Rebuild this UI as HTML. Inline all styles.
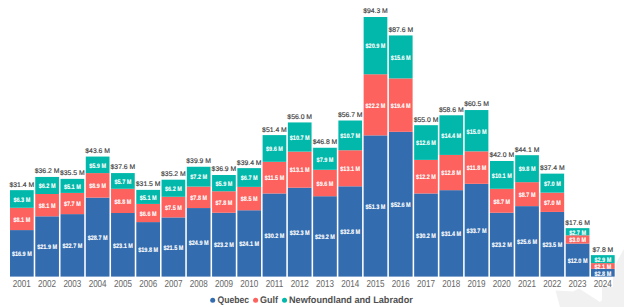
<!DOCTYPE html><html><head><meta charset="utf-8"><style>
html,body{margin:0;padding:0;background:#fff;width:624px;height:307px;overflow:hidden}
svg{display:block;font-family:"Liberation Sans",sans-serif;text-rendering:geometricPrecision}
</style></head><body>
<svg width="624" height="307" viewBox="0 0 624 307">
<polygon points="555.5,290.5 573,291.5 579,288.5 600,302 602,300 602,287 613,287 613,276.6 615.3,276.6 616,263 624,249 624,307 560,307" fill="#f1f1f1"/>

<rect x="10" y="230.08" width="23.7" height="46.52" fill="#346DAF"/>
<rect x="10" y="207.78" width="23.7" height="22.3" fill="#FD625E"/>
<rect x="10" y="190.16" width="23.7" height="17.62" fill="#01B8AA"/>
<text transform="translate(21.85 256.14) scale(0.86 1)" font-size="6.4" font-weight="bold" fill="#fff" stroke="#fff" stroke-width="0.1" text-anchor="middle">$16.9 M</text>
<text transform="translate(21.85 221.73) scale(0.86 1)" font-size="6.4" font-weight="bold" fill="#fff" stroke="#fff" stroke-width="0.1" text-anchor="middle">$8.1 M</text>
<text transform="translate(21.85 201.77) scale(0.86 1)" font-size="6.4" font-weight="bold" fill="#fff" stroke="#fff" stroke-width="0.1" text-anchor="middle">$6.3 M</text>
<text x="21.85" y="186.56" font-size="6.84" fill="#3a3a3a" stroke="#3a3a3a" stroke-width="0.15" text-anchor="middle">$31.4 M</text>
<text transform="translate(21.85 287) scale(0.8 1)" font-size="10.1" fill="#666666" stroke="#666666" stroke-width="0.0" text-anchor="middle">2001</text>
<rect x="35.26" y="216.31" width="23.7" height="60.29" fill="#346DAF"/>
<rect x="35.26" y="194.01" width="23.7" height="22.3" fill="#FD625E"/>
<rect x="35.26" y="176.94" width="23.7" height="17.07" fill="#01B8AA"/>
<text transform="translate(47.11 249.26) scale(0.86 1)" font-size="6.4" font-weight="bold" fill="#fff" stroke="#fff" stroke-width="0.1" text-anchor="middle">$21.9 M</text>
<text transform="translate(47.11 207.96) scale(0.86 1)" font-size="6.4" font-weight="bold" fill="#fff" stroke="#fff" stroke-width="0.1" text-anchor="middle">$8.1 M</text>
<text transform="translate(47.11 188.28) scale(0.86 1)" font-size="6.4" font-weight="bold" fill="#fff" stroke="#fff" stroke-width="0.1" text-anchor="middle">$6.2 M</text>
<text x="47.11" y="173.34" font-size="6.84" fill="#3a3a3a" stroke="#3a3a3a" stroke-width="0.15" text-anchor="middle">$36.2 M</text>
<text transform="translate(47.11 287) scale(0.8 1)" font-size="10.1" fill="#666666" stroke="#666666" stroke-width="0.0" text-anchor="middle">2002</text>
<rect x="60.52" y="214.11" width="23.7" height="62.49" fill="#346DAF"/>
<rect x="60.52" y="192.91" width="23.7" height="21.2" fill="#FD625E"/>
<rect x="60.52" y="178.87" width="23.7" height="14.04" fill="#01B8AA"/>
<text transform="translate(72.37 248.15) scale(0.86 1)" font-size="6.4" font-weight="bold" fill="#fff" stroke="#fff" stroke-width="0.1" text-anchor="middle">$22.7 M</text>
<text transform="translate(72.37 206.31) scale(0.86 1)" font-size="6.4" font-weight="bold" fill="#fff" stroke="#fff" stroke-width="0.1" text-anchor="middle">$7.7 M</text>
<text transform="translate(72.37 188.69) scale(0.86 1)" font-size="6.4" font-weight="bold" fill="#fff" stroke="#fff" stroke-width="0.1" text-anchor="middle">$5.1 M</text>
<text x="72.37" y="175.27" font-size="6.84" fill="#3a3a3a" stroke="#3a3a3a" stroke-width="0.15" text-anchor="middle">$35.5 M</text>
<text transform="translate(72.37 287) scale(0.8 1)" font-size="10.1" fill="#666666" stroke="#666666" stroke-width="0.0" text-anchor="middle">2003</text>
<rect x="85.78" y="197.59" width="23.7" height="79.01" fill="#346DAF"/>
<rect x="85.78" y="173.09" width="23.7" height="24.5" fill="#FD625E"/>
<rect x="85.78" y="156.57" width="23.7" height="16.52" fill="#01B8AA"/>
<text transform="translate(97.63 239.9) scale(0.86 1)" font-size="6.4" font-weight="bold" fill="#fff" stroke="#fff" stroke-width="0.1" text-anchor="middle">$28.7 M</text>
<text transform="translate(97.63 188.14) scale(0.86 1)" font-size="6.4" font-weight="bold" fill="#fff" stroke="#fff" stroke-width="0.1" text-anchor="middle">$8.9 M</text>
<text transform="translate(97.63 167.63) scale(0.86 1)" font-size="6.4" font-weight="bold" fill="#fff" stroke="#fff" stroke-width="0.1" text-anchor="middle">$5.9 M</text>
<text x="97.63" y="152.97" font-size="6.84" fill="#3a3a3a" stroke="#3a3a3a" stroke-width="0.15" text-anchor="middle">$43.6 M</text>
<text transform="translate(97.63 287) scale(0.8 1)" font-size="10.1" fill="#666666" stroke="#666666" stroke-width="0.0" text-anchor="middle">2004</text>
<rect x="111.04" y="213.01" width="23.7" height="63.59" fill="#346DAF"/>
<rect x="111.04" y="188.78" width="23.7" height="24.23" fill="#FD625E"/>
<rect x="111.04" y="173.09" width="23.7" height="15.69" fill="#01B8AA"/>
<text transform="translate(122.89 247.6) scale(0.86 1)" font-size="6.4" font-weight="bold" fill="#fff" stroke="#fff" stroke-width="0.1" text-anchor="middle">$23.1 M</text>
<text transform="translate(122.89 203.69) scale(0.86 1)" font-size="6.4" font-weight="bold" fill="#fff" stroke="#fff" stroke-width="0.1" text-anchor="middle">$8.8 M</text>
<text transform="translate(122.89 183.74) scale(0.86 1)" font-size="6.4" font-weight="bold" fill="#fff" stroke="#fff" stroke-width="0.1" text-anchor="middle">$5.7 M</text>
<text x="122.89" y="169.49" font-size="6.84" fill="#3a3a3a" stroke="#3a3a3a" stroke-width="0.15" text-anchor="middle">$37.6 M</text>
<text transform="translate(122.89 287) scale(0.8 1)" font-size="10.1" fill="#666666" stroke="#666666" stroke-width="0.0" text-anchor="middle">2005</text>
<rect x="136.3" y="222.09" width="23.7" height="54.51" fill="#346DAF"/>
<rect x="136.3" y="203.92" width="23.7" height="18.17" fill="#FD625E"/>
<rect x="136.3" y="189.88" width="23.7" height="14.04" fill="#01B8AA"/>
<text transform="translate(148.15 252.15) scale(0.86 1)" font-size="6.4" font-weight="bold" fill="#fff" stroke="#fff" stroke-width="0.1" text-anchor="middle">$19.8 M</text>
<text transform="translate(148.15 215.81) scale(0.86 1)" font-size="6.4" font-weight="bold" fill="#fff" stroke="#fff" stroke-width="0.1" text-anchor="middle">$6.6 M</text>
<text transform="translate(148.15 199.7) scale(0.86 1)" font-size="6.4" font-weight="bold" fill="#fff" stroke="#fff" stroke-width="0.1" text-anchor="middle">$5.1 M</text>
<text x="148.15" y="186.28" font-size="6.84" fill="#3a3a3a" stroke="#3a3a3a" stroke-width="0.15" text-anchor="middle">$31.5 M</text>
<text transform="translate(148.15 287) scale(0.8 1)" font-size="10.1" fill="#666666" stroke="#666666" stroke-width="0.0" text-anchor="middle">2006</text>
<rect x="161.56" y="217.41" width="23.7" height="59.19" fill="#346DAF"/>
<rect x="161.56" y="196.77" width="23.7" height="20.65" fill="#FD625E"/>
<rect x="161.56" y="179.7" width="23.7" height="17.07" fill="#01B8AA"/>
<text transform="translate(173.41 249.81) scale(0.86 1)" font-size="6.4" font-weight="bold" fill="#fff" stroke="#fff" stroke-width="0.1" text-anchor="middle">$21.5 M</text>
<text transform="translate(173.41 209.89) scale(0.86 1)" font-size="6.4" font-weight="bold" fill="#fff" stroke="#fff" stroke-width="0.1" text-anchor="middle">$7.5 M</text>
<text transform="translate(173.41 191.03) scale(0.86 1)" font-size="6.4" font-weight="bold" fill="#fff" stroke="#fff" stroke-width="0.1" text-anchor="middle">$6.2 M</text>
<text x="173.41" y="176.1" font-size="6.84" fill="#3a3a3a" stroke="#3a3a3a" stroke-width="0.15" text-anchor="middle">$35.2 M</text>
<text transform="translate(173.41 287) scale(0.8 1)" font-size="10.1" fill="#666666" stroke="#666666" stroke-width="0.0" text-anchor="middle">2007</text>
<rect x="186.82" y="208.05" width="23.7" height="68.55" fill="#346DAF"/>
<rect x="186.82" y="186.58" width="23.7" height="21.47" fill="#FD625E"/>
<rect x="186.82" y="166.76" width="23.7" height="19.82" fill="#01B8AA"/>
<text transform="translate(198.67 245.13) scale(0.86 1)" font-size="6.4" font-weight="bold" fill="#fff" stroke="#fff" stroke-width="0.1" text-anchor="middle">$24.9 M</text>
<text transform="translate(198.67 200.12) scale(0.86 1)" font-size="6.4" font-weight="bold" fill="#fff" stroke="#fff" stroke-width="0.1" text-anchor="middle">$7.8 M</text>
<text transform="translate(198.67 179.47) scale(0.86 1)" font-size="6.4" font-weight="bold" fill="#fff" stroke="#fff" stroke-width="0.1" text-anchor="middle">$7.2 M</text>
<text x="198.67" y="163.16" font-size="6.84" fill="#3a3a3a" stroke="#3a3a3a" stroke-width="0.15" text-anchor="middle">$39.9 M</text>
<text transform="translate(198.67 287) scale(0.8 1)" font-size="10.1" fill="#666666" stroke="#666666" stroke-width="0.0" text-anchor="middle">2008</text>
<rect x="212.08" y="212.73" width="23.7" height="63.87" fill="#346DAF"/>
<rect x="212.08" y="191.26" width="23.7" height="21.47" fill="#FD625E"/>
<rect x="212.08" y="175.02" width="23.7" height="16.24" fill="#01B8AA"/>
<text transform="translate(223.93 247.47) scale(0.86 1)" font-size="6.4" font-weight="bold" fill="#fff" stroke="#fff" stroke-width="0.1" text-anchor="middle">$23.2 M</text>
<text transform="translate(223.93 204.8) scale(0.86 1)" font-size="6.4" font-weight="bold" fill="#fff" stroke="#fff" stroke-width="0.1" text-anchor="middle">$7.8 M</text>
<text transform="translate(223.93 185.94) scale(0.86 1)" font-size="6.4" font-weight="bold" fill="#fff" stroke="#fff" stroke-width="0.1" text-anchor="middle">$5.9 M</text>
<text x="223.93" y="171.42" font-size="6.84" fill="#3a3a3a" stroke="#3a3a3a" stroke-width="0.15" text-anchor="middle">$36.9 M</text>
<text transform="translate(223.93 287) scale(0.8 1)" font-size="10.1" fill="#666666" stroke="#666666" stroke-width="0.0" text-anchor="middle">2009</text>
<rect x="237.34" y="210.25" width="23.7" height="66.35" fill="#346DAF"/>
<rect x="237.34" y="186.85" width="23.7" height="23.4" fill="#FD625E"/>
<rect x="237.34" y="168.14" width="23.7" height="18.72" fill="#01B8AA"/>
<text transform="translate(249.19 246.23) scale(0.86 1)" font-size="6.4" font-weight="bold" fill="#fff" stroke="#fff" stroke-width="0.1" text-anchor="middle">$24.1 M</text>
<text transform="translate(249.19 201.35) scale(0.86 1)" font-size="6.4" font-weight="bold" fill="#fff" stroke="#fff" stroke-width="0.1" text-anchor="middle">$8.5 M</text>
<text transform="translate(249.19 180.3) scale(0.86 1)" font-size="6.4" font-weight="bold" fill="#fff" stroke="#fff" stroke-width="0.1" text-anchor="middle">$6.7 M</text>
<text x="249.19" y="164.54" font-size="6.84" fill="#3a3a3a" stroke="#3a3a3a" stroke-width="0.15" text-anchor="middle">$39.4 M</text>
<text transform="translate(249.19 287) scale(0.8 1)" font-size="10.1" fill="#666666" stroke="#666666" stroke-width="0.0" text-anchor="middle">2010</text>
<rect x="262.6" y="193.46" width="23.7" height="83.14" fill="#346DAF"/>
<rect x="262.6" y="161.8" width="23.7" height="31.66" fill="#FD625E"/>
<rect x="262.6" y="135.1" width="23.7" height="26.7" fill="#01B8AA"/>
<text transform="translate(274.45 237.83) scale(0.86 1)" font-size="6.4" font-weight="bold" fill="#fff" stroke="#fff" stroke-width="0.1" text-anchor="middle">$30.2 M</text>
<text transform="translate(274.45 180.43) scale(0.86 1)" font-size="6.4" font-weight="bold" fill="#fff" stroke="#fff" stroke-width="0.1" text-anchor="middle">$11.5 M</text>
<text transform="translate(274.45 151.25) scale(0.86 1)" font-size="6.4" font-weight="bold" fill="#fff" stroke="#fff" stroke-width="0.1" text-anchor="middle">$9.6 M</text>
<text x="274.45" y="131.5" font-size="6.84" fill="#3a3a3a" stroke="#3a3a3a" stroke-width="0.15" text-anchor="middle">$51.4 M</text>
<text transform="translate(274.45 287) scale(0.8 1)" font-size="10.1" fill="#666666" stroke="#666666" stroke-width="0.0" text-anchor="middle">2011</text>
<rect x="287.86" y="187.68" width="23.7" height="88.92" fill="#346DAF"/>
<rect x="287.86" y="151.62" width="23.7" height="36.06" fill="#FD625E"/>
<rect x="287.86" y="122.44" width="23.7" height="29.18" fill="#01B8AA"/>
<text transform="translate(299.71 234.94) scale(0.86 1)" font-size="6.4" font-weight="bold" fill="#fff" stroke="#fff" stroke-width="0.1" text-anchor="middle">$32.3 M</text>
<text transform="translate(299.71 172.45) scale(0.86 1)" font-size="6.4" font-weight="bold" fill="#fff" stroke="#fff" stroke-width="0.1" text-anchor="middle">$13.1 M</text>
<text transform="translate(299.71 139.83) scale(0.86 1)" font-size="6.4" font-weight="bold" fill="#fff" stroke="#fff" stroke-width="0.1" text-anchor="middle">$10.7 M</text>
<text x="299.71" y="118.84" font-size="6.84" fill="#3a3a3a" stroke="#3a3a3a" stroke-width="0.15" text-anchor="middle">$56.0 M</text>
<text transform="translate(299.71 287) scale(0.8 1)" font-size="10.1" fill="#666666" stroke="#666666" stroke-width="0.0" text-anchor="middle">2012</text>
<rect x="313.12" y="196.21" width="23.7" height="80.39" fill="#346DAF"/>
<rect x="313.12" y="169.79" width="23.7" height="26.43" fill="#FD625E"/>
<rect x="313.12" y="147.76" width="23.7" height="22.02" fill="#01B8AA"/>
<text transform="translate(324.97 239.21) scale(0.86 1)" font-size="6.4" font-weight="bold" fill="#fff" stroke="#fff" stroke-width="0.1" text-anchor="middle">$29.2 M</text>
<text transform="translate(324.97 185.8) scale(0.86 1)" font-size="6.4" font-weight="bold" fill="#fff" stroke="#fff" stroke-width="0.1" text-anchor="middle">$9.6 M</text>
<text transform="translate(324.97 161.58) scale(0.86 1)" font-size="6.4" font-weight="bold" fill="#fff" stroke="#fff" stroke-width="0.1" text-anchor="middle">$7.9 M</text>
<text x="324.97" y="144.16" font-size="6.84" fill="#3a3a3a" stroke="#3a3a3a" stroke-width="0.15" text-anchor="middle">$46.8 M</text>
<text transform="translate(324.97 287) scale(0.8 1)" font-size="10.1" fill="#666666" stroke="#666666" stroke-width="0.0" text-anchor="middle">2013</text>
<rect x="338.38" y="186.3" width="23.7" height="90.3" fill="#346DAF"/>
<rect x="338.38" y="150.24" width="23.7" height="36.06" fill="#FD625E"/>
<rect x="338.38" y="120.51" width="23.7" height="29.73" fill="#01B8AA"/>
<text transform="translate(350.23 234.25) scale(0.86 1)" font-size="6.4" font-weight="bold" fill="#fff" stroke="#fff" stroke-width="0.1" text-anchor="middle">$32.8 M</text>
<text transform="translate(350.23 171.07) scale(0.86 1)" font-size="6.4" font-weight="bold" fill="#fff" stroke="#fff" stroke-width="0.1" text-anchor="middle">$13.1 M</text>
<text transform="translate(350.23 138.18) scale(0.86 1)" font-size="6.4" font-weight="bold" fill="#fff" stroke="#fff" stroke-width="0.1" text-anchor="middle">$10.7 M</text>
<text x="350.23" y="116.91" font-size="6.84" fill="#3a3a3a" stroke="#3a3a3a" stroke-width="0.15" text-anchor="middle">$56.7 M</text>
<text transform="translate(350.23 287) scale(0.8 1)" font-size="10.1" fill="#666666" stroke="#666666" stroke-width="0.0" text-anchor="middle">2014</text>
<rect x="363.64" y="135.38" width="23.7" height="141.22" fill="#346DAF"/>
<rect x="363.64" y="74.26" width="23.7" height="61.11" fill="#FD625E"/>
<rect x="363.64" y="17" width="23.7" height="57.26" fill="#01B8AA"/>
<text transform="translate(375.49 208.79) scale(0.86 1)" font-size="6.4" font-weight="bold" fill="#fff" stroke="#fff" stroke-width="0.1" text-anchor="middle">$51.3 M</text>
<text transform="translate(375.49 107.62) scale(0.86 1)" font-size="6.4" font-weight="bold" fill="#fff" stroke="#fff" stroke-width="0.1" text-anchor="middle">$22.2 M</text>
<text transform="translate(375.49 48.43) scale(0.86 1)" font-size="6.4" font-weight="bold" fill="#fff" stroke="#fff" stroke-width="0.1" text-anchor="middle">$20.9 M</text>
<text x="375.49" y="13.4" font-size="6.84" fill="#3a3a3a" stroke="#3a3a3a" stroke-width="0.15" text-anchor="middle">$94.3 M</text>
<text transform="translate(375.49 287) scale(0.8 1)" font-size="10.1" fill="#666666" stroke="#666666" stroke-width="0.0" text-anchor="middle">2015</text>
<rect x="388.9" y="131.8" width="23.7" height="144.8" fill="#346DAF"/>
<rect x="388.9" y="78.39" width="23.7" height="53.41" fill="#FD625E"/>
<rect x="388.9" y="35.44" width="23.7" height="42.95" fill="#01B8AA"/>
<text transform="translate(400.75 207) scale(0.86 1)" font-size="6.4" font-weight="bold" fill="#fff" stroke="#fff" stroke-width="0.1" text-anchor="middle">$52.6 M</text>
<text transform="translate(400.75 107.89) scale(0.86 1)" font-size="6.4" font-weight="bold" fill="#fff" stroke="#fff" stroke-width="0.1" text-anchor="middle">$19.4 M</text>
<text transform="translate(400.75 59.72) scale(0.86 1)" font-size="6.4" font-weight="bold" fill="#fff" stroke="#fff" stroke-width="0.1" text-anchor="middle">$15.6 M</text>
<text x="400.75" y="31.84" font-size="6.84" fill="#3a3a3a" stroke="#3a3a3a" stroke-width="0.15" text-anchor="middle">$87.6 M</text>
<text transform="translate(400.75 287) scale(0.8 1)" font-size="10.1" fill="#666666" stroke="#666666" stroke-width="0.0" text-anchor="middle">2016</text>
<rect x="414.16" y="193.46" width="23.7" height="83.14" fill="#346DAF"/>
<rect x="414.16" y="159.88" width="23.7" height="33.59" fill="#FD625E"/>
<rect x="414.16" y="125.19" width="23.7" height="34.69" fill="#01B8AA"/>
<text transform="translate(426.01 237.83) scale(0.86 1)" font-size="6.4" font-weight="bold" fill="#fff" stroke="#fff" stroke-width="0.1" text-anchor="middle">$30.2 M</text>
<text transform="translate(426.01 179.47) scale(0.86 1)" font-size="6.4" font-weight="bold" fill="#fff" stroke="#fff" stroke-width="0.1" text-anchor="middle">$12.2 M</text>
<text transform="translate(426.01 145.33) scale(0.86 1)" font-size="6.4" font-weight="bold" fill="#fff" stroke="#fff" stroke-width="0.1" text-anchor="middle">$12.6 M</text>
<text x="426.01" y="121.59" font-size="6.84" fill="#3a3a3a" stroke="#3a3a3a" stroke-width="0.15" text-anchor="middle">$55.0 M</text>
<text transform="translate(426.01 287) scale(0.8 1)" font-size="10.1" fill="#666666" stroke="#666666" stroke-width="0.0" text-anchor="middle">2017</text>
<rect x="439.42" y="190.16" width="23.7" height="86.44" fill="#346DAF"/>
<rect x="439.42" y="154.92" width="23.7" height="35.24" fill="#FD625E"/>
<rect x="439.42" y="115.28" width="23.7" height="39.64" fill="#01B8AA"/>
<text transform="translate(451.27 236.18) scale(0.86 1)" font-size="6.4" font-weight="bold" fill="#fff" stroke="#fff" stroke-width="0.1" text-anchor="middle">$31.4 M</text>
<text transform="translate(451.27 175.34) scale(0.86 1)" font-size="6.4" font-weight="bold" fill="#fff" stroke="#fff" stroke-width="0.1" text-anchor="middle">$12.8 M</text>
<text transform="translate(451.27 137.9) scale(0.86 1)" font-size="6.4" font-weight="bold" fill="#fff" stroke="#fff" stroke-width="0.1" text-anchor="middle">$14.4 M</text>
<text x="451.27" y="111.68" font-size="6.84" fill="#3a3a3a" stroke="#3a3a3a" stroke-width="0.15" text-anchor="middle">$58.6 M</text>
<text transform="translate(451.27 287) scale(0.8 1)" font-size="10.1" fill="#666666" stroke="#666666" stroke-width="0.0" text-anchor="middle">2018</text>
<rect x="464.68" y="183.83" width="23.7" height="92.77" fill="#346DAF"/>
<rect x="464.68" y="151.34" width="23.7" height="32.48" fill="#FD625E"/>
<rect x="464.68" y="110.05" width="23.7" height="41.29" fill="#01B8AA"/>
<text transform="translate(476.53 233.01) scale(0.86 1)" font-size="6.4" font-weight="bold" fill="#fff" stroke="#fff" stroke-width="0.1" text-anchor="middle">$33.7 M</text>
<text transform="translate(476.53 170.38) scale(0.86 1)" font-size="6.4" font-weight="bold" fill="#fff" stroke="#fff" stroke-width="0.1" text-anchor="middle">$11.8 M</text>
<text transform="translate(476.53 133.5) scale(0.86 1)" font-size="6.4" font-weight="bold" fill="#fff" stroke="#fff" stroke-width="0.1" text-anchor="middle">$15.0 M</text>
<text x="476.53" y="106.45" font-size="6.84" fill="#3a3a3a" stroke="#3a3a3a" stroke-width="0.15" text-anchor="middle">$60.5 M</text>
<text transform="translate(476.53 287) scale(0.8 1)" font-size="10.1" fill="#666666" stroke="#666666" stroke-width="0.0" text-anchor="middle">2019</text>
<rect x="489.94" y="212.73" width="23.7" height="63.87" fill="#346DAF"/>
<rect x="489.94" y="188.78" width="23.7" height="23.95" fill="#FD625E"/>
<rect x="489.94" y="160.98" width="23.7" height="27.8" fill="#01B8AA"/>
<text transform="translate(501.79 247.47) scale(0.86 1)" font-size="6.4" font-weight="bold" fill="#fff" stroke="#fff" stroke-width="0.1" text-anchor="middle">$23.2 M</text>
<text transform="translate(501.79 203.56) scale(0.86 1)" font-size="6.4" font-weight="bold" fill="#fff" stroke="#fff" stroke-width="0.1" text-anchor="middle">$8.7 M</text>
<text transform="translate(501.79 177.68) scale(0.86 1)" font-size="6.4" font-weight="bold" fill="#fff" stroke="#fff" stroke-width="0.1" text-anchor="middle">$10.1 M</text>
<text x="501.79" y="157.38" font-size="6.84" fill="#3a3a3a" stroke="#3a3a3a" stroke-width="0.15" text-anchor="middle">$42.0 M</text>
<text transform="translate(501.79 287) scale(0.8 1)" font-size="10.1" fill="#666666" stroke="#666666" stroke-width="0.0" text-anchor="middle">2020</text>
<rect x="515.2" y="206.13" width="23.7" height="70.47" fill="#346DAF"/>
<rect x="515.2" y="182.17" width="23.7" height="23.95" fill="#FD625E"/>
<rect x="515.2" y="155.2" width="23.7" height="26.98" fill="#01B8AA"/>
<text transform="translate(527.05 244.16) scale(0.86 1)" font-size="6.4" font-weight="bold" fill="#fff" stroke="#fff" stroke-width="0.1" text-anchor="middle">$25.6 M</text>
<text transform="translate(527.05 196.95) scale(0.86 1)" font-size="6.4" font-weight="bold" fill="#fff" stroke="#fff" stroke-width="0.1" text-anchor="middle">$8.7 M</text>
<text transform="translate(527.05 171.49) scale(0.86 1)" font-size="6.4" font-weight="bold" fill="#fff" stroke="#fff" stroke-width="0.1" text-anchor="middle">$9.8 M</text>
<text x="527.05" y="151.6" font-size="6.84" fill="#3a3a3a" stroke="#3a3a3a" stroke-width="0.15" text-anchor="middle">$44.1 M</text>
<text transform="translate(527.05 287) scale(0.8 1)" font-size="10.1" fill="#666666" stroke="#666666" stroke-width="0.0" text-anchor="middle">2021</text>
<rect x="540.46" y="211.91" width="23.7" height="64.69" fill="#346DAF"/>
<rect x="540.46" y="192.64" width="23.7" height="19.27" fill="#FD625E"/>
<rect x="540.46" y="173.64" width="23.7" height="19" fill="#01B8AA"/>
<text transform="translate(552.31 247.05) scale(0.86 1)" font-size="6.4" font-weight="bold" fill="#fff" stroke="#fff" stroke-width="0.1" text-anchor="middle">$23.5 M</text>
<text transform="translate(552.31 205.07) scale(0.86 1)" font-size="6.4" font-weight="bold" fill="#fff" stroke="#fff" stroke-width="0.1" text-anchor="middle">$7.0 M</text>
<text transform="translate(552.31 185.94) scale(0.86 1)" font-size="6.4" font-weight="bold" fill="#fff" stroke="#fff" stroke-width="0.1" text-anchor="middle">$7.0 M</text>
<text x="552.31" y="170.04" font-size="6.84" fill="#3a3a3a" stroke="#3a3a3a" stroke-width="0.15" text-anchor="middle">$37.4 M</text>
<text transform="translate(552.31 287) scale(0.8 1)" font-size="10.1" fill="#666666" stroke="#666666" stroke-width="0.0" text-anchor="middle">2022</text>
<rect x="565.72" y="243.57" width="23.7" height="33.03" fill="#346DAF"/>
<rect x="565.72" y="235.31" width="23.7" height="8.26" fill="#FD625E"/>
<rect x="565.72" y="228.15" width="23.7" height="7.16" fill="#01B8AA"/>
<text transform="translate(577.57 262.88) scale(0.86 1)" font-size="6.4" font-weight="bold" fill="#fff" stroke="#fff" stroke-width="0.1" text-anchor="middle">$12.0 M</text>
<text transform="translate(577.57 242.24) scale(0.86 1)" font-size="6.4" font-weight="bold" fill="#fff" stroke="#fff" stroke-width="0.1" text-anchor="middle">$3.0 M</text>
<text transform="translate(577.57 234.53) scale(0.86 1)" font-size="6.4" font-weight="bold" fill="#fff" stroke="#fff" stroke-width="0.1" text-anchor="middle">$2.7 M</text>
<text x="577.57" y="224.55" font-size="6.84" fill="#3a3a3a" stroke="#3a3a3a" stroke-width="0.15" text-anchor="middle">$17.6 M</text>
<text transform="translate(577.57 287) scale(0.8 1)" font-size="10.1" fill="#666666" stroke="#666666" stroke-width="0.0" text-anchor="middle">2023</text>
<rect x="590.98" y="268.89" width="23.7" height="7.71" fill="#346DAF"/>
<rect x="590.98" y="263.11" width="23.7" height="5.78" fill="#FD625E"/>
<rect x="590.98" y="255.13" width="23.7" height="7.98" fill="#01B8AA"/>
<text transform="translate(602.83 275.55) scale(0.86 1)" font-size="6.4" font-weight="bold" fill="#fff" stroke="#fff" stroke-width="0.1" text-anchor="middle">$2.8 M</text>
<text transform="translate(602.83 268.8) scale(0.86 1)" font-size="6.4" font-weight="bold" fill="#fff" stroke="#fff" stroke-width="0.1" text-anchor="middle">$2.1 M</text>
<text transform="translate(602.83 261.92) scale(0.86 1)" font-size="6.4" font-weight="bold" fill="#fff" stroke="#fff" stroke-width="0.1" text-anchor="middle">$2.9 M</text>
<text x="602.83" y="251.53" font-size="6.84" fill="#3a3a3a" stroke="#3a3a3a" stroke-width="0.15" text-anchor="middle">$7.8 M</text>
<text transform="translate(602.83 287) scale(0.8 1)" font-size="10.1" fill="#666666" stroke="#666666" stroke-width="0.0" text-anchor="middle">2024</text>
<circle cx="212.7" cy="300.2" r="2.5" fill="#346DAF"/>
<circle cx="255.6" cy="300.2" r="2.5" fill="#FD625E"/>
<circle cx="284.5" cy="300.2" r="2.5" fill="#01B8AA"/>
<text x="217.5" y="303.4" font-size="9.6" font-weight="bold" fill="#505050" textLength="31.6" lengthAdjust="spacingAndGlyphs">Quebec</text>
<text x="260" y="303.4" font-size="9.6" font-weight="bold" fill="#505050" textLength="18" lengthAdjust="spacingAndGlyphs">Gulf</text>
<text x="289" y="303.4" font-size="9.6" font-weight="bold" fill="#505050" textLength="123.8" lengthAdjust="spacingAndGlyphs">Newfoundland and Labrador</text>
</svg></body></html>
